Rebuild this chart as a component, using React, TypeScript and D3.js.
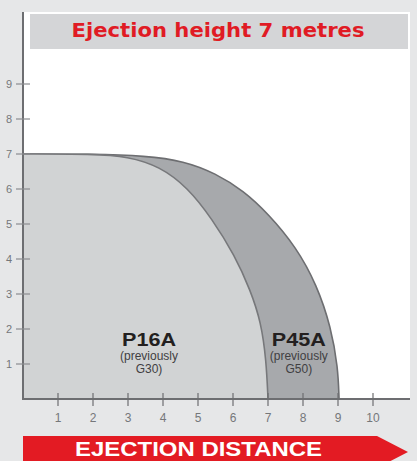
import React from "react";
import * as d3 from "d3";

const TITLE = "Ejection height 7 metres";
const X_AXIS_TITLE = "EJECTION DISTANCE";
const X_TICKS = [1, 2, 3, 4, 5, 6, 7, 8, 9, 10];
const Y_TICKS = [1, 2, 3, 4, 5, 6, 7, 8, 9];

// [distance (m), height (m)]
const P45A_CURVE: [number, number][] = [
  [0, 7], [0, 7], [2, 7], [3.5, 6.95], [4.6, 6.8], [5.5, 6.45], [6.3, 5.95], [7, 5.3],
  [7.8, 4.35], [8.4, 3.25], [8.8, 2.05], [9.0, 0.9], [9.03, 0], [9.03, 0],
];
const P16A_CURVE: [number, number][] = [
  [0, 7], [0, 7], [2, 7], [3, 6.93], [3.9, 6.65], [4.7, 6.05], [5.4, 5.15], [6.05, 4.1],
  [6.5, 3.1], [6.8, 2.2], [6.95, 1.1], [7.0, 0], [7.0, 0],
];
const SERIES_LABELS = [
  { name: "P16A", sub1: "(previously", sub2: "G30)", x: 3.6 },
  { name: "P45A", sub1: "(previously", sub2: "G50)", x: 7.88 },
];

const W = 417;
const H = 461;

export default function App() {
  const x = d3.scaleLinear().domain([0, 10]).range([23, 373]);
  const y = d3.scaleLinear().domain([0, 9]).range([399, 84]);
  const line = d3
    .line<[number, number]>()
    .x((d) => x(d[0]))
    .y((d) => y(d[1]))
    .curve(d3.curveBasis);
  const area = (pts: [number, number][]) =>
    `${line(pts)}L${x(0)},${y(0)}Z`;

  const grayText = "#75777a";

  return (
    <div style={{ position: "absolute", left: 0, top: 0 }}>
      <svg width={W} height={H} style={{ display: "block" }}>
        <rect x={0} y={0} width={W} height={H} fill="#e6e7e8" />
        <rect x={23} y={12} width={387} height={388} fill="#ffffff" />
        <rect x={30} y={14} width={378} height={35} fill="#d4d5d7" />
        <text
          x={218}
          y={37}
          textAnchor="middle"
          fontFamily="DejaVu Sans, Verdana, sans-serif"
          fontWeight="bold"
          fontSize={20}
          fill="#e01b24"
          textLength={293}
          lengthAdjust="spacingAndGlyphs"
        >
          {TITLE}
        </text>

        {/* areas */}
        <path d={area(P45A_CURVE)} fill="#a7a9ac" />
        <path d={line(P45A_CURVE) || ""} fill="none" stroke="#6d6e71" strokeWidth={1.6} />
        <path d={area(P16A_CURVE)} fill="#d1d3d4" />
        <path d={line(P16A_CURVE) || ""} fill="none" stroke="#77787b" strokeWidth={1.6} />

        {/* series labels */}
        {SERIES_LABELS.map((s) => (
          <g key={s.name} fontFamily="Liberation Sans, Arial, sans-serif" textAnchor="middle">
            <text
              x={x(s.x)}
              y={346}
              fontSize={18.5}
              fontWeight="bold"
              fill="#231f20"
              textLength={54}
              lengthAdjust="spacingAndGlyphs"
            >
              {s.name}
            </text>
            <text x={x(s.x)} y={360} fontSize={12} fill="#414042">
              {s.sub1}
            </text>
            <text x={x(s.x)} y={373} fontSize={12} fill="#414042">
              {s.sub2}
            </text>
          </g>
        ))}

        {/* y axis */}
        <line x1={23} y1={12} x2={23} y2={400} stroke="#6d6e71" strokeWidth={2} />
        {Y_TICKS.map((t) => (
          <g key={"y" + t}>
            <line x1={16} x2={30} y1={y(t)} y2={y(t)} stroke="#8a8c8f" strokeWidth={1.2} />
            <text
              x={12}
              y={y(t) + 4}
              textAnchor="end"
              fontFamily="Liberation Sans, Arial, sans-serif"
              fontSize={11}
              fill={grayText}
            >
              {t}
            </text>
          </g>
        ))}

        {/* x axis */}
        <line x1={22} y1={399} x2={410} y2={399} stroke="#6d6e71" strokeWidth={2} />
        {X_TICKS.map((t) => (
          <g key={"x" + t}>
            <line x1={x(t)} x2={x(t)} y1={393} y2={406} stroke="#6d6e71" strokeWidth={1.2} />
            <text
              x={x(t)}
              y={422}
              textAnchor="middle"
              fontFamily="Liberation Sans, Arial, sans-serif"
              fontSize={12}
              fill={grayText}
            >
              {t}
            </text>
          </g>
        ))}

        {/* x axis title banner */}
        <path d="M23,436 L377,436 L408,452 L377,468 L23,468 Z" fill="#e31b23" />
        <text
          x={198.5}
          y={456}
          textAnchor="middle"
          fontFamily="Liberation Sans, Arial, sans-serif"
          fontWeight="bold"
          fontSize={20}
          fill="#ffffff"
          textLength={247}
          lengthAdjust="spacingAndGlyphs"
        >
          {X_AXIS_TITLE}
        </text>
      </svg>
    </div>
  );
}
